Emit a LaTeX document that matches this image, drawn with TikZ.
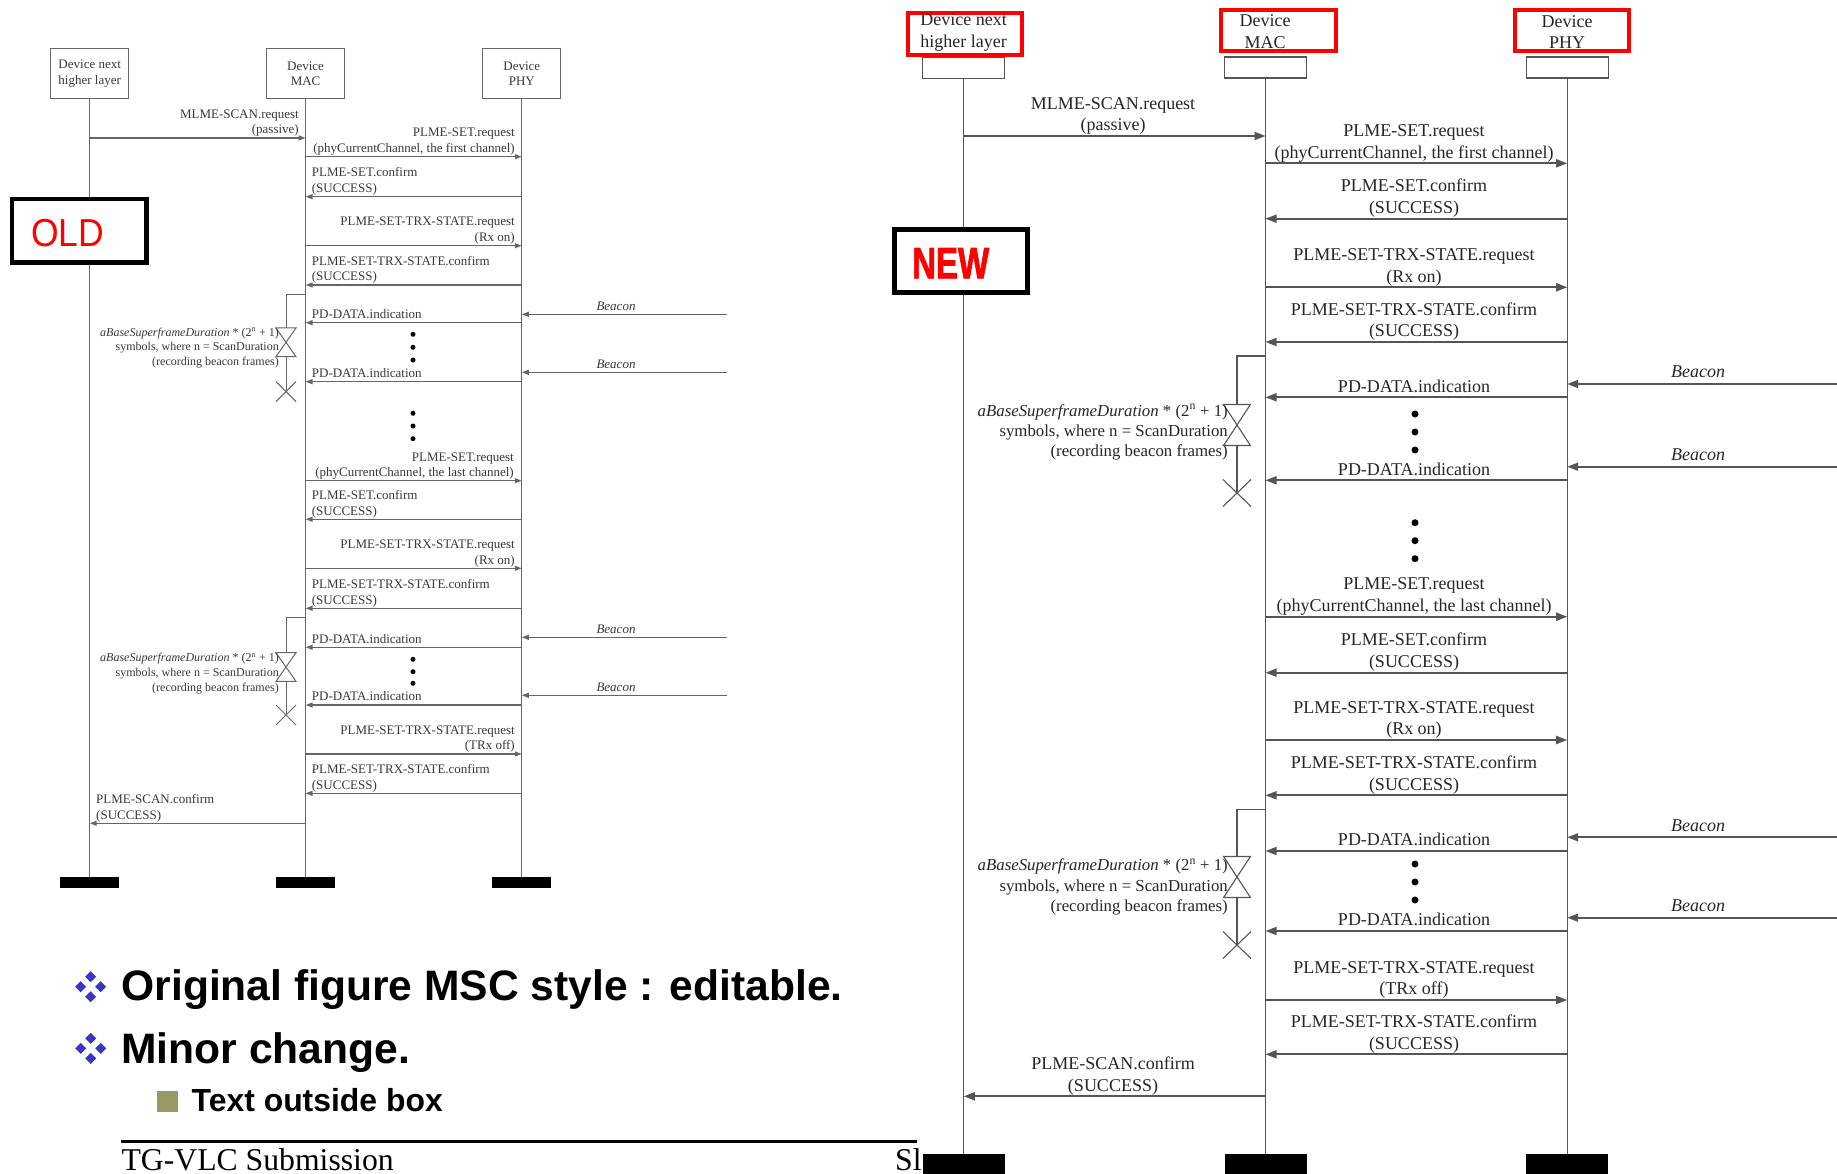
\documentclass[tikz,border=0pt]{standalone}
\usepackage{fontspec}
\setmainfont{Liberation Serif}
\newfontfamily\sansfont{Liberation Sans}
\newfontfamily\heavyfont[BoldFeatures={FakeBold=2}]{Liberation Sans}
\usetikzlibrary{arrows.meta}
\definecolor{oline}{HTML}{666666}
\definecolor{otxt}{HTML}{383838}
\definecolor{nline}{HTML}{555555}
\definecolor{ntxt}{HTML}{262626}
\definecolor{bblue}{HTML}{3636C8}
\definecolor{bolive}{HTML}{999966}
\definecolor{hred}{HTML}{FF0000}
\newcommand\OTimer[5]{%
  \draw[olife] (#1 |- 0,#3) -- (#2,#3) -- (#2,#4);
  \draw[olife] (#2-10,#4) -- (#2+10,#4) -- (#2-10,#4+28.7) -- (#2+10,#4+28.7) -- cycle;
  \draw[olife] (#2,#4+28.7) -- (#2,#5);
  \draw[olife] (#2-10,#5-10) -- (#2+10,#5+10) (#2-10,#5+10) -- (#2+10,#5-10);}
\newcommand\NTimer[5]{%
  \draw[nlife] (#1 |- 0,#3) -- (#2,#3) -- (#2,#4);
  \draw[nlife] (#2-13.4,#4) -- (#2+13.4,#4) -- (#2-13.4,#4+41) -- (#2+13.4,#4+41) -- cycle;
  \draw[nlife] (#2,#4+41) -- (#2,#5);
  \draw[nlife] (#2-14,#5-13.5) -- (#2+14,#5+13.5) (#2-14,#5+13.5) -- (#2+14,#5-13.5);}
\begin{document}
\begin{tikzpicture}[x=1pt,y=-1pt,
  olife/.style={draw=oline,line width=1pt},
  omsg/.style={draw=oline,line width=1.4pt,-{Triangle[length=7pt,width=5pt]}},
  ohead/.style={draw=oline,line width=1.3pt,fill=white,minimum width=78pt,minimum height=50pt,inner sep=0pt,align=center,text=otxt,font=\fontsize{13}{15.3}\selectfont},
  obar/.style={fill=black,minimum width=59pt,minimum height=10.4pt,inner sep=0pt},
  olab/.style={text=otxt,inner sep=0pt,text depth=0pt,font=\fontsize{13}{15.5}\selectfont},
  olabR/.style={olab,align=right,anchor=south east},
  olabL/.style={olab,align=left,anchor=south west},
  otim/.style={text=otxt,inner sep=0pt,text depth=0pt,font=\fontsize{12}{14.7}\selectfont,align=right,anchor=south east},
  obeac/.style={text=otxt,inner sep=0pt,text depth=0pt,font=\fontsize{13}{15}\selectfont\itshape,anchor=south},
  odot/.style={fill=black,circle,inner sep=0pt,minimum size=5pt},
  nlife/.style={draw=nline,line width=1.1pt},
  nmsg/.style={draw=nline,line width=1.8pt,-{Triangle[length=11pt,width=8pt]}},
  nred/.style={draw=hred,line width=4pt,inner sep=0pt},
  nhead/.style={draw=nline,line width=1.3pt,fill=white,minimum width=82pt,minimum height=21pt,inner sep=0pt},
  nname/.style={text=ntxt,inner sep=0pt,align=center,font=\fontsize{18}{21.5}\selectfont},
  nbar/.style={fill=black,minimum width=82pt,minimum height=20pt,inner sep=0pt},
  nlab/.style={text=ntxt,inner sep=0pt,text depth=0pt,align=center,anchor=south,font=\fontsize{18}{21.7}\selectfont},
  ntim/.style={text=ntxt,inner sep=0pt,text depth=0pt,font=\fontsize{16.8}{20.3}\selectfont,align=right,anchor=south east},
  nbeac/.style={text=ntxt,inner sep=0pt,text depth=0pt,font=\fontsize{18}{20}\selectfont\itshape,anchor=south},
  ndot/.style={fill=black,circle,inner sep=0pt,minimum size=7pt},
  plain/.style={anchor=base west,inner sep=0pt}
]
\useasboundingbox (0,0) rectangle (1837,1174);

% ================= OLD diagram =================
\node[ohead] (oHL) at (89.7,73.7) {Device next\\higher layer};
\node[ohead] (oHM) at (305.6,73.7) {Device\\MAC};
\node[ohead] (oHP) at (521.8,73.7) {Device\\PHY};
\node[obar] (oEL) at (oHL |- 0,882.5) {};
\node[obar] (oEM) at (oHM |- 0,882.5) {};
\node[obar] (oEP) at (oHP |- 0,882.5) {};
\draw[olife] (oHL.south) -- (oEL.north);
\draw[olife] (oHM.south) -- (oEM.north);
\draw[olife] (oHP.south) -- (oEP.north);

\draw[omsg] (oHL |- 0,138) -- (oHM |- 0,138);
\node[olabR] (om1) at (299,134) {MLME-SCAN.request\\(passive)};
\draw[omsg] (oHM |- 0,156.7) -- (oHP |- 0,156.7);
\node[olabR] (om2) at (515,152.7) {PLME-SET.request\\(phyCurrentChannel, the first channel)};
\draw[omsg] (oHP |- 0,196.7) -- (oHM |- 0,196.7);
\node[olabL] (om3) at (311.7,192.7) {PLME-SET.confirm\\(SUCCESS)};
\draw[omsg] (oHM |- 0,245.7) -- (oHP |- 0,245.7);
\node[olabR] (om4) at (515,241.7) {PLME-SET-TRX-STATE.request\\(Rx on)};
\draw[omsg] (oHP |- 0,285) -- (oHM |- 0,285);
\node[olabL] (om5) at (311.7,281) {PLME-SET-TRX-STATE.confirm\\(SUCCESS)};
\draw[omsg] (oHP |- 0,322.7) -- (oHM |- 0,322.7);
\node[olabL] (om6) at (311.7,318.7) {PD-DATA.indication};
\draw[omsg] (oHP |- 0,381.7) -- (oHM |- 0,381.7);
\node[olabL] (om7) at (311.7,377.7) {PD-DATA.indication};
\draw[omsg] (oHM |- 0,480.7) -- (oHP |- 0,480.7);
\node[olabR] (om8) at (514,476.7) {PLME-SET.request\\(phyCurrentChannel, the last channel)};
\draw[omsg] (oHP |- 0,519.3) -- (oHM |- 0,519.3);
\node[olabL] (om9) at (311.7,515.3) {PLME-SET.confirm\\(SUCCESS)};
\draw[omsg] (oHM |- 0,568.3) -- (oHP |- 0,568.3);
\node[olabR] (om10) at (515,564.3) {PLME-SET-TRX-STATE.request\\(Rx on)};
\draw[omsg] (oHP |- 0,608.3) -- (oHM |- 0,608.3);
\node[olabL] (om11) at (311.7,604.3) {PLME-SET-TRX-STATE.confirm\\(SUCCESS)};
\draw[omsg] (oHP |- 0,647.3) -- (oHM |- 0,647.3);
\node[olabL] (om12) at (311.7,643.3) {PD-DATA.indication};
\draw[omsg] (oHP |- 0,705) -- (oHM |- 0,705);
\node[olabL] (om13) at (311.7,701) {PD-DATA.indication};
\draw[omsg] (oHM |- 0,754) -- (oHP |- 0,754);
\node[olabR] (om14) at (515,750) {PLME-SET-TRX-STATE.request\\(TRx off)};
\draw[omsg] (oHP |- 0,793.3) -- (oHM |- 0,793.3);
\node[olabL] (om15) at (311.7,789.3) {PLME-SET-TRX-STATE.confirm\\(SUCCESS)};
\draw[omsg] (oHM |- 0,823.3) -- (oHL |- 0,823.3);
\node[olabL] (om16) at (96,819.3) {PLME-SCAN.confirm\\(SUCCESS)};

\foreach \y [count=\i] in {314.3,372.3,637.3,695.3} {
  \coordinate (ob\i) at (727,\y);
  \draw[omsg] (ob\i) -- (oHP |- ob\i);
  \node[obeac] (obt\i) at (616,\y-4) {Beacon};
}
\foreach \y [count=\i] in {334.3,347.3,360,413.3,426,438.7,659.3,671.7,683.3}
  \node[odot] (od\i) at (413,\y) {};

\OTimer{oHM}{286}{295}{328}{391.7}
\OTimer{oHM}{286}{617.7}{652.7}{715}
\node[otim] (ott1) at (279,365.7) {\textit{aBaseSuperframeDuration} * (2\textsuperscript{n} + 1)\\symbols, where n = ScanDuration\\(recording beacon frames)};
\node[otim] (ott2) at (279,691.3) {\textit{aBaseSuperframeDuration} * (2\textsuperscript{n} + 1)\\symbols, where n = ScanDuration\\(recording beacon frames)};

\node[draw=black,line width=4.5pt,fill=white,minimum width=134.6pt,minimum height=63.8pt,inner sep=0pt] (oldbox) at (79.25,230.85) {};
\node[plain,text=hred,font=\sansfont\fontsize{39}{39}\selectfont] (oldtxt) at (31,246.7) {\scalebox{0.91}[1]{OLD}};

% ================= bullets and footer =================
\foreach \cy in {986.7,1048.3}
  \foreach \dx/\dy in {0/-10,-10/0,10/0,0/10}
    \fill[bblue] (90.7+\dx,\cy+\dy-5.5) -- ++(5.5,5.5) -- ++(-5.5,5.5) -- ++(-5.5,-5.5) -- cycle;
\node[plain,font=\sansfont\bfseries\fontsize{42.6}{46}\selectfont] (b1) at (121.3,1000) {Original figure MSC style : editable.};
\node[plain,font=\sansfont\bfseries\fontsize{42.6}{46}\selectfont] (b2) at (121.3,1063.3) {Minor change.};
\fill[bolive] (156.7,1091) rectangle (178.3,1112);
\node[plain,font=\sansfont\bfseries\fontsize{31.9}{34}\selectfont] (b3) at (191.5,1111) {Text outside box};
\draw[line width=3pt] (121.4,1141) -- (917,1141);
\node[plain,font=\fontsize{31.7}{34}\selectfont] (foot) at (121.4,1170) {TG-VLC Submission};
\node[plain,font=\fontsize{31.7}{34}\selectfont] (slide) at (895,1170) {Sl};

% ================= NEW diagram =================
\node[nhead] (nHL) at (963.8,67.8) {};
\node[nhead] (nHM) at (1265.5,67.5) {};
\node[nhead] (nHP) at (1567.2,67.5) {};
\node[nred,minimum width=114.4pt,minimum height=41.7pt] (nRL) at (964.8,33.85) {};
\node[nred,minimum width=114.4pt,minimum height=41pt] (nRM) at (1278.5,30.8) {};
\node[nred,minimum width=113.4pt,minimum height=41pt] (nRP) at (1572.1,30.8) {};
\node[nname] (nNL) at (963.6,32.6) {Device next\\higher layer};
\node[nname] (nNM) at (1265,31.8) {Device\\MAC};
\node[nname] (nNP) at (1567,31.8) {Device\\PHY};
\node[nbar] (nEL) at (nHL |- 0,1164) {};
\node[nbar] (nEM) at (nHM |- 0,1164) {};
\node[nbar] (nEP) at (nHP |- 0,1164) {};
\draw[nlife] (nHL.south) -- (nEL.north);
\draw[nlife] (nHM.south) -- (nEM.north);
\draw[nlife] (nHP.south) -- (nEP.north);

\draw[nmsg] (nHL |- 0,136) -- (nHM |- 0,136);
\node[nlab] (nm1) at (1113,131) {MLME-SCAN.request\\(passive)};
\draw[nmsg] (nHM |- 0,163.3) -- (nHP |- 0,163.3);
\node[nlab] (nm2) at (1414,158.3) {PLME-SET.request\\(phyCurrentChannel, the first channel)};
\draw[nmsg] (nHP |- 0,218.7) -- (nHM |- 0,218.7);
\node[nlab] (nm3) at (1414,213.7) {PLME-SET.confirm\\(SUCCESS)};
\draw[nmsg] (nHM |- 0,287.3) -- (nHP |- 0,287.3);
\node[nlab] (nm4) at (1414,282.3) {PLME-SET-TRX-STATE.request\\(Rx on)};
\draw[nmsg] (nHP |- 0,342) -- (nHM |- 0,342);
\node[nlab] (nm5) at (1414,337) {PLME-SET-TRX-STATE.confirm\\(SUCCESS)};
\draw[nmsg] (nHP |- 0,397.3) -- (nHM |- 0,397.3);
\node[nlab] (nm6) at (1414,392.3) {PD-DATA.indication};
\draw[nmsg] (nHP |- 0,480.3) -- (nHM |- 0,480.3);
\node[nlab] (nm7) at (1414,475.3) {PD-DATA.indication};
\draw[nmsg] (nHM |- 0,616.7) -- (nHP |- 0,616.7);
\node[nlab] (nm8) at (1414,611.7) {PLME-SET.request\\(phyCurrentChannel, the last channel)};
\draw[nmsg] (nHP |- 0,672.7) -- (nHM |- 0,672.7);
\node[nlab] (nm9) at (1414,667.7) {PLME-SET.confirm\\(SUCCESS)};
\draw[nmsg] (nHM |- 0,740) -- (nHP |- 0,740);
\node[nlab] (nm10) at (1414,735) {PLME-SET-TRX-STATE.request\\(Rx on)};
\draw[nmsg] (nHP |- 0,795.3) -- (nHM |- 0,795.3);
\node[nlab] (nm11) at (1414,790.3) {PLME-SET-TRX-STATE.confirm\\(SUCCESS)};
\draw[nmsg] (nHP |- 0,851) -- (nHM |- 0,851);
\node[nlab] (nm12) at (1414,846) {PD-DATA.indication};
\draw[nmsg] (nHP |- 0,931) -- (nHM |- 0,931);
\node[nlab] (nm13) at (1414,926) {PD-DATA.indication};
\draw[nmsg] (nHM |- 0,1000) -- (nHP |- 0,1000);
\node[nlab] (nm14) at (1414,995) {PLME-SET-TRX-STATE.request\\(TRx off)};
\draw[nmsg] (nHP |- 0,1054.3) -- (nHM |- 0,1054.3);
\node[nlab] (nm15) at (1414,1049.3) {PLME-SET-TRX-STATE.confirm\\(SUCCESS)};
\draw[nmsg] (nHM |- 0,1096.3) -- (nHL |- 0,1096.3);
\node[nlab] (nm16) at (1113,1091.3) {PLME-SCAN.confirm\\(SUCCESS)};

\foreach \y [count=\i] in {384,466.7,837.3,917.7} {
  \coordinate (nb\i) at (1837,\y);
  \draw[nmsg] (nb\i) -- (nHP |- nb\i);
  \node[nbeac] (nbt\i) at (1698,\y-6) {Beacon};
}
\foreach \y [count=\i] in {414,432,450,522.7,540.7,558.7,864,882,900}
  \node[ndot] (nd\i) at (1415,\y) {};

\NTimer{nHM}{1237}{356}{404.5}{493}
\NTimer{nHM}{1237}{809.3}{856.5}{945}
\node[ntim] (ntt1) at (1228,457) {\textit{aBaseSuperframeDuration} * (2\textsuperscript{n} + 1)\\symbols, where n = ScanDuration\\(recording beacon frames)};
\node[ntim] (ntt2) at (1228,911.5) {\textit{aBaseSuperframeDuration} * (2\textsuperscript{n} + 1)\\symbols, where n = ScanDuration\\(recording beacon frames)};

\node[draw=black,line width=5pt,fill=white,minimum width=132.8pt,minimum height=63.3pt,inner sep=0pt] (newbox) at (961.1,260.85) {};
\node[plain,text=hred,font=\heavyfont\bfseries\fontsize{44}{44}\selectfont] (newtxt) at (912,278.3) {\scalebox{0.75}[1]{NEW}};
\end{tikzpicture}
\end{document}
